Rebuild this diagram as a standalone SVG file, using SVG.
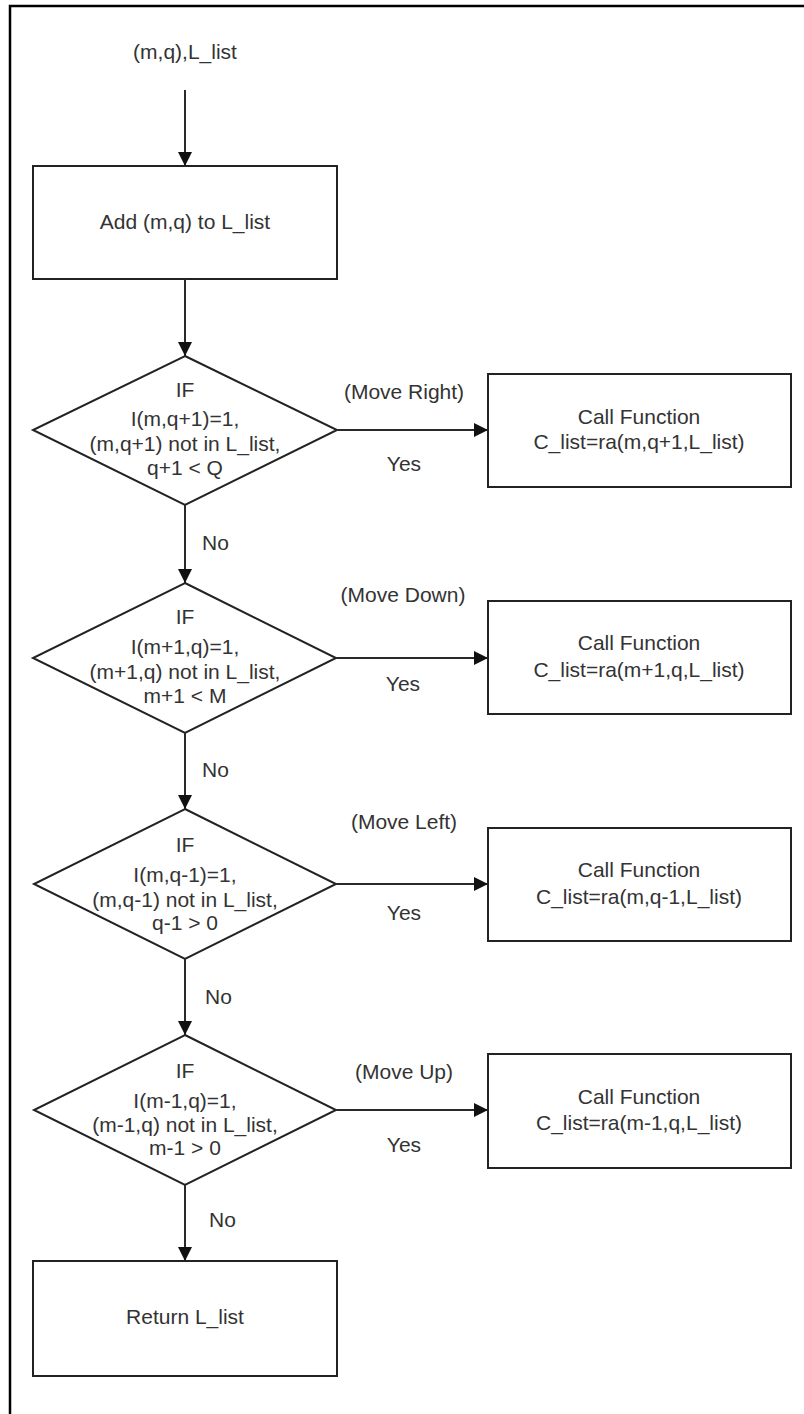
<svg xmlns="http://www.w3.org/2000/svg" width="804" height="1414" viewBox="0 0 804 1414">
<style>
  .shape { fill: #ffffff; stroke: #222222; stroke-width: 2; }
  .conn { fill: none; stroke: #2a2a2a; stroke-width: 2; }
  text { font-family: "Liberation Sans", Arial, sans-serif; font-size: 21px; fill: #333333; }
  .c { text-anchor: middle; }
</style>
<defs>
  <marker id="arr" viewBox="0 0 14 14" refX="14" refY="7" markerWidth="14" markerHeight="14" markerUnits="userSpaceOnUse" orient="auto">
    <path d="M0,0 L14,7 L0,14 Z" fill="#111111"/>
  </marker>
</defs>
<rect width="804" height="1414" fill="#ffffff"/>
<g id="frame">
  <path d="M10,1414 L10,6 L804,6" fill="none" stroke="#000000" stroke-width="2.5"/>
</g>

<g id="input-label">
  <text class="c" x="185" y="59">(m,q),L_list</text>
</g>

<g id="add-node">
  <rect class="shape" x="33" y="166" width="304" height="113"/>
  <text class="c" x="185" y="229">Add (m,q) to L_list</text>
</g>

<g id="decision-right">
  <polygon class="shape" points="185,356 337,430 185,505 33,430"/>
  <text class="c" x="185" y="397">IF</text>
  <text class="c" x="185" y="426">I(m,q+1)=1,</text>
  <text class="c" x="185" y="451">(m,q+1) not in L_list,</text>
  <text class="c" x="185" y="475">q+1 &lt; Q</text>
</g>

<g id="call-right">
  <rect class="shape" x="488" y="374" width="303" height="113"/>
  <text class="c" x="639" y="424">Call Function</text>
  <text class="c" x="639" y="449">C_list=ra(m,q+1,L_list)</text>
</g>

<g id="decision-down">
  <polygon class="shape" points="185,583 336,658 185,733 33,658"/>
  <text class="c" x="185" y="624">IF</text>
  <text class="c" x="185" y="654">I(m+1,q)=1,</text>
  <text class="c" x="185" y="679">(m+1,q) not in L_list,</text>
  <text class="c" x="185" y="703">m+1 &lt; M</text>
</g>

<g id="call-down">
  <rect class="shape" x="488" y="601" width="303" height="113"/>
  <text class="c" x="639" y="650">Call Function</text>
  <text class="c" x="639" y="677">C_list=ra(m+1,q,L_list)</text>
</g>

<g id="decision-left">
  <polygon class="shape" points="185,809 336,884 185,959 34,884"/>
  <text class="c" x="185" y="852">IF</text>
  <text class="c" x="185" y="882">I(m,q-1)=1,</text>
  <text class="c" x="185" y="907">(m,q-1) not in L_list,</text>
  <text class="c" x="185" y="930">q-1 &gt; 0</text>
</g>

<g id="call-left">
  <rect class="shape" x="488" y="828" width="303" height="113"/>
  <text class="c" x="639" y="877">Call Function</text>
  <text class="c" x="639" y="904">C_list=ra(m,q-1,L_list)</text>
</g>

<g id="decision-up">
  <polygon class="shape" points="185,1035 336,1110 185,1185 34,1110"/>
  <text class="c" x="185" y="1078">IF</text>
  <text class="c" x="185" y="1108">I(m-1,q)=1,</text>
  <text class="c" x="185" y="1132">(m-1,q) not in L_list,</text>
  <text class="c" x="185" y="1155">m-1 &gt; 0</text>
</g>

<g id="call-up">
  <rect class="shape" x="488" y="1054" width="303" height="114"/>
  <text class="c" x="639" y="1104">Call Function</text>
  <text class="c" x="639" y="1130">C_list=ra(m-1,q,L_list)</text>
</g>

<g id="return-node">
  <rect class="shape" x="33" y="1261" width="304" height="115"/>
  <text class="c" x="185" y="1324">Return L_list</text>
</g>

<g id="connectors">
  <line class="conn" x1="185" y1="90" x2="185" y2="166" marker-end="url(#arr)"/>
  <line class="conn" x1="185" y1="279" x2="185" y2="356" marker-end="url(#arr)"/>
  <line class="conn" x1="185" y1="505" x2="185" y2="583" marker-end="url(#arr)"/>
  <line class="conn" x1="185" y1="733" x2="185" y2="809" marker-end="url(#arr)"/>
  <line class="conn" x1="185" y1="959" x2="185" y2="1035" marker-end="url(#arr)"/>
  <line class="conn" x1="185" y1="1185" x2="185" y2="1261" marker-end="url(#arr)"/>
  <line class="conn" x1="337" y1="430" x2="488" y2="430" marker-end="url(#arr)"/>
  <line class="conn" x1="336" y1="658" x2="488" y2="658" marker-end="url(#arr)"/>
  <line class="conn" x1="336" y1="884" x2="488" y2="884" marker-end="url(#arr)"/>
  <line class="conn" x1="336" y1="1110" x2="488" y2="1110" marker-end="url(#arr)"/>
  <text x="202" y="550">No</text>
  <text x="202" y="777">No</text>
  <text x="205" y="1004">No</text>
  <text x="209" y="1227">No</text>
  <text class="c" x="404" y="399">(Move Right)</text>
  <text class="c" x="404" y="471">Yes</text>
  <text class="c" x="403" y="602">(Move Down)</text>
  <text class="c" x="403" y="691">Yes</text>
  <text class="c" x="404" y="829">(Move Left)</text>
  <text class="c" x="404" y="920">Yes</text>
  <text class="c" x="404" y="1079">(Move Up)</text>
  <text class="c" x="404" y="1152">Yes</text>
</g>
</svg>
